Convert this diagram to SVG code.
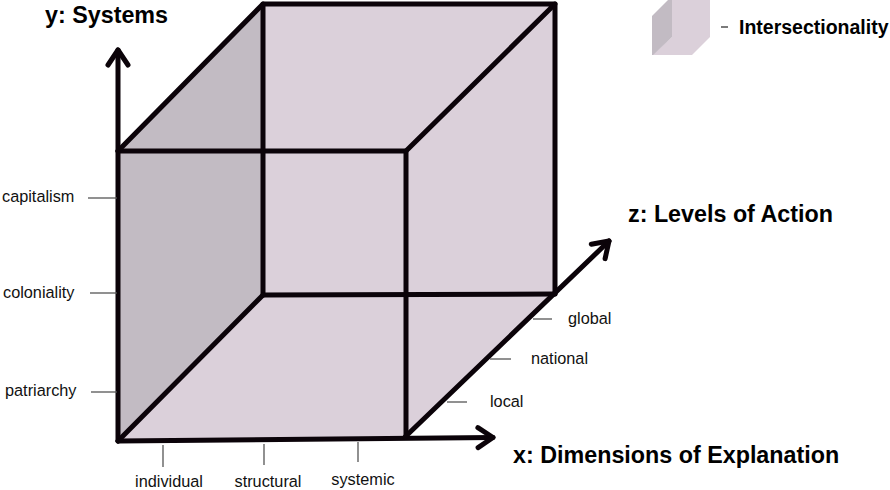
<svg xmlns="http://www.w3.org/2000/svg" width="890" height="490" viewBox="0 0 890 490">
<style>
.edge{stroke:#0b0309;stroke-width:5;fill:none;stroke-linecap:round;stroke-linejoin:round}
.tick{stroke:#555;stroke-width:1.3;fill:none}
.lbl{font-family:"Liberation Sans",Arial,sans-serif;font-size:16.3px;fill:#111}
.title{font-family:"Liberation Sans",Arial,sans-serif;font-size:23.3px;font-weight:bold;fill:#000}
.light{fill:#dbd0da}
.dark{fill:#c2bbc3}
</style>
<defs>
<marker id="arr" markerUnits="userSpaceOnUse" markerWidth="30" markerHeight="30" refX="0" refY="0" viewBox="-20 -15 30 30" orient="auto" overflow="visible">
<path d="M-15,-10 L0,0 L-15,10" fill="none" stroke="#0b0309" stroke-width="5" stroke-linecap="round" stroke-linejoin="round"/>
</marker>
</defs>
<rect width="890" height="490" fill="#fff"/>
<g id="legend">
<polygon class="light" points="672,0 710,0 710,37 692,55 652,55 672,37"/>
<polygon class="dark" points="652,16 668,0 672,0 672,37 653,55 652,55"/>
<line x1="721" y1="27" x2="728" y2="27" stroke="#333" stroke-width="1.3"/>
<text x="739" y="34" class="title" style="font-size:19.5px">Intersectionality</text>
</g>
<g id="cube">
<polygon class="light" points="118,151 263,4 555,4 555,294 406,436 118,441"/>
<polygon class="dark" points="118,151 263,4 263,295 118,441"/>
<polyline class="edge" points="118,151 406,151 406,436"/>
<polyline class="edge" points="118,151 263,4 555,4 406,151"/>
<line class="edge" x1="263" y1="4" x2="263" y2="295"/>
<line class="edge" x1="555" y1="4" x2="555" y2="294"/>
<line class="edge" x1="263" y1="295" x2="555" y2="294"/>
<line class="edge" x1="118" y1="441" x2="263" y2="295"/>
</g>
<g id="connectors">
<line class="edge" x1="118" y1="441" x2="118" y2="50" marker-end="url(#arr)"/>
<line class="edge" x1="118" y1="441" x2="493" y2="437.5" marker-end="url(#arr)"/>
<line class="edge" x1="405" y1="437" x2="609" y2="241" marker-end="url(#arr)"/>
</g>
<g id="y-axis">
<text x="45" y="23" class="title">y: Systems</text>
<line class="tick" x1="88" y1="198" x2="117" y2="198"/>
<line class="tick" x1="90" y1="293" x2="117" y2="293"/>
<line class="tick" x1="91" y1="392" x2="117" y2="392"/>
<text x="2" y="202" class="lbl">capitalism</text>
<text x="3" y="298" class="lbl">coloniality</text>
<text x="5" y="396" class="lbl">patriarchy</text>
</g>
<g id="x-axis">
<text x="513" y="463" class="title">x: Dimensions of Explanation</text>
<line class="tick" x1="163" y1="445" x2="163" y2="467"/>
<line class="tick" x1="264" y1="444" x2="264" y2="465"/>
<line class="tick" x1="358" y1="442" x2="358" y2="462"/>
<text x="169" y="487" class="lbl" text-anchor="middle">individual</text>
<text x="268" y="487" class="lbl" text-anchor="middle">structural</text>
<text x="363" y="485" class="lbl" text-anchor="middle">systemic</text>
</g>
<g id="z-axis">
<text x="628" y="222" class="title">z: Levels of Action</text>
<line class="tick" x1="533" y1="319" x2="552" y2="319"/>
<line class="tick" x1="490" y1="359" x2="511" y2="359"/>
<line class="tick" x1="447" y1="402" x2="467" y2="402"/>
<text x="568" y="324" class="lbl">global</text>
<text x="531" y="364" class="lbl">national</text>
<text x="490" y="407" class="lbl">local</text>
</g>
</svg>
